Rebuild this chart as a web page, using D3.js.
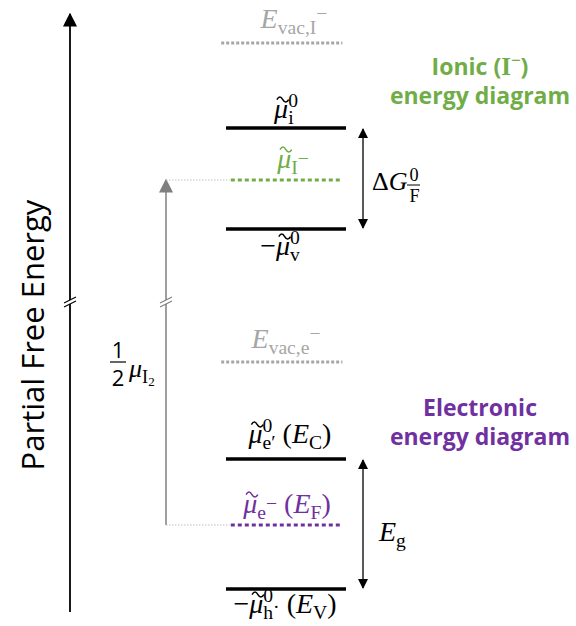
<!DOCTYPE html>
<html>
<head>
<meta charset="utf-8">
<script src="https://cdn.jsdelivr.net/npm/d3@7"></script>
<style>
  body { margin: 0; background: #fff; }
  svg text { font-family: "Liberation Serif", serif; }
</style>
</head>
<body>
<div id="chart"></div>
<script>
// energy levels (arbitrary units, 0 = bottom of the axis)
const levelNames = ['Evac_I', 'mu_i0', 'mu_I', 'mu_v0', 'Evac_e', 'mu_e0', 'mu_e', 'mu_h0'];
const levelValues = [569, 484, 432, 383, 250, 153, 87, 23];
const levelKinds = ['vac', 'solid', 'ion', 'solid', 'vac', 'solid', 'elec', 'solid'];
const axisRange = [0, 598];
const breakValue = 310;
const gapArrows = [['mu_i0', 'mu_v0'], ['mu_e0', 'mu_h0']];

const width = 576, height = 626;
const green = '#70ad47', purple = '#7030a0', grey = '#a6a6a6', darkGrey = '#7f7f7f';

const svg = d3.select('#chart').append('svg')
    .attr('width', width)
    .attr('height', height);

const y = d3.scaleLinear().domain([0, 600]).range([612, 12]);
const x = d3.scaleLinear().domain([0, 100]).range([226, 346]);

const val = name => levelValues[levelNames.indexOf(name)];

const defs = svg.append('defs');
function marker(id, color, w) {
    defs.append('marker')
        .attr('id', id)
        .attr('viewBox', '0 0 10 10')
        .attr('refX', 9).attr('refY', 5)
        .attr('markerWidth', w).attr('markerHeight', w)
        .attr('markerUnits', 'userSpaceOnUse')
        .attr('orient', 'auto-start-reverse')
        .append('path')
        .attr('d', 'M0,0 L10,5 L0,10 Z')
        .attr('fill', color);
}
marker('head', '#000', 14);
marker('headGrey', darkGrey, 14);
marker('small', '#000', 10);

// main axis
svg.append('line')
    .attr('x1', 70).attr('x2', 70)
    .attr('y1', y(axisRange[0])).attr('y2', y(axisRange[1]))
    .attr('stroke', '#000').attr('stroke-width', 1.8)
    .attr('marker-end', 'url(#head)');

// 1/2 mu arrow
svg.append('line')
    .attr('x1', 166).attr('x2', 166)
    .attr('y1', y(val('mu_e'))).attr('y2', y(val('mu_I')))
    .attr('stroke', darkGrey).attr('stroke-width', 1.5)
    .attr('marker-end', 'url(#headGrey)');

// thin dotted connectors
['mu_I', 'mu_e'].forEach(n => {
    svg.append('line')
        .attr('x1', 166).attr('x2', x(3))
        .attr('y1', y(val(n))).attr('y2', y(val(n)))
        .attr('stroke', '#bfbfbf').attr('stroke-width', 1)
        .attr('stroke-dasharray', '1.5,1.5');
});

// axis breaks
function axisBreak(cx, color) {
    const cy = y(breakValue);
    svg.append('rect').attr('x', cx - 3).attr('y', cy - 2).attr('width', 6).attr('height', 4).attr('fill', '#fff');
    [-2, 2].forEach(o => {
        svg.append('line')
            .attr('x1', cx - 6).attr('x2', cx + 6)
            .attr('y1', cy + o + 3).attr('y2', cy + o - 3)
            .attr('stroke', color).attr('stroke-width', 1.2);
    });
}
axisBreak(70, '#000');
axisBreak(166, darkGrey);

// levels
const levelStyle = {
    solid: { color: '#000', w: 3.5, dash: null, x0: 0, x1: 100 },
    vac: { color: grey, w: 3, dash: '3,2', x0: -4, x1: 97 },
    ion: { color: green, w: 3, dash: '4,3', x0: 4, x1: 96 },
    elec: { color: purple, w: 3, dash: '4,3', x0: 4, x1: 96 }
};
svg.selectAll('.level')
    .data(levelNames.map((n, i) => ({ name: n, v: levelValues[i], kind: levelKinds[i] })))
    .enter().append('line')
    .attr('class', 'level')
    .attr('x1', d => x(levelStyle[d.kind].x0))
    .attr('x2', d => x(levelStyle[d.kind].x1))
    .attr('y1', d => y(d.v)).attr('y2', d => y(d.v))
    .attr('stroke', d => levelStyle[d.kind].color)
    .attr('stroke-width', d => levelStyle[d.kind].w)
    .attr('stroke-dasharray', d => levelStyle[d.kind].dash);

// double arrows
gapArrows.forEach(([a, b]) => {
    svg.append('line')
        .attr('x1', 363).attr('x2', 363)
        .attr('y1', y(val(a)) + 1).attr('y2', y(val(b)) - 1)
        .attr('stroke', '#000').attr('stroke-width', 1.3)
        .attr('marker-start', 'url(#small)')
        .attr('marker-end', 'url(#small)');
});

// math labels built from pieces, measured and placed
// piece: {t, i: italic, s: size factor, dy, over: stack on previous, tilde}
function mathLabel(pieces, cx, baseline, color, size, anchor) {
    const g = svg.append('g').attr('fill', color);
    let xx = 0, lastStart = 0, lastW = 0;
    pieces.forEach(p => {
        const start = p.over ? lastStart : xx;
        const fs = size * (p.s || 1);
        const t = g.append('text')
            .attr('x', start + (p.dx || 0))
            .attr('y', (p.dy || 0) * size)
            .attr('font-size', fs)
            .style('font-style', p.i ? 'italic' : 'normal')
            .text(p.t);
        const w = t.node().getComputedTextLength() + (p.dx || 0);
        if (p.tilde) {
            const tw = fs * 0.42, h = fs * 0.09;
            const a = start + w / 2 - tw / 2 + fs * 0.06, b = -fs * 0.66;
            g.append('path')
                .attr('d', `M${a},${b} q${tw / 4},${-h * 2} ${tw / 2},0 t${tw / 2},0`)
                .attr('fill', 'none')
                .attr('stroke', color)
                .attr('stroke-width', fs * 0.055);
        }
        if (p.over) {
            xx = lastStart + Math.max(w, lastW);
        } else {
            lastStart = start; lastW = w; xx = start + w;
        }
    });
    const left = anchor === 'start' ? cx : cx - xx / 2;
    g.attr('transform', `translate(${left},${baseline})`);
    return g;
}

const mu = { t: 'μ', i: true, tilde: true };
const sz = 28;
// dy values are fractions of the font size
const sub = (t, dy) => ({ t, s: 0.7, dy: dy == null ? 0.2 : dy });
const sup0 = { t: '0', s: 0.7, dy: -0.4, over: true };
const paren = { t: '\u00a0(' };

mathLabel([{ t: 'E', i: true }, sub('vac,I'), sub('−', -0.28)], 294, 28, grey, sz);
mathLabel([mu, sub('i'), sup0], 286, 118, '#000', sz);
mathLabel([mu, sub('I'), sub('−', -0.12)], 293, 168, green, sz);
mathLabel([{ t: '−' }, mu, sub('v'), sup0], 280, 255, '#000', sz);

// delta G with stacked F / 0
const dG = mathLabel([{ t: 'Δ' }, { t: 'G', i: true }, { t: '0', s: 0.7, dy: -0.34, dx: 2 }, { t: 'F', s: 0.7, dy: 0.45, dx: 2, over: true }], 372, 190, '#000', 26, 'start');
dG.append('line').attr('x1', 35).attr('x2', 48).attr('y1', -5).attr('y2', -5)
    .attr('stroke', '#000').attr('stroke-width', 1);

mathLabel([{ t: 'E', i: true }, sub('vac,e'), sub('−', -0.28)], 286, 348, grey, sz);
mathLabel([mu, sub('e′'), sup0, paren, { t: 'E', i: true }, sub('C'), { t: ')' }], 290, 443, '#000', sz);
mathLabel([mu, sub('e'), sub('−', -0.12), paren, { t: 'E', i: true }, sub('F'), { t: ')' }], 287, 513, purple, sz);
mathLabel([{ t: '−' }, mu, sub('h'), sup0, sub('·', 0), paren, { t: 'E', i: true }, sub('V'), { t: ')' }], 285, 613, '#000', sz);
mathLabel([{ t: 'E', i: true }, sub('g')], 379, 541, '#000', sz, 'start');

// 1/2 mu_I2
const fracFont = '"Open Sans", sans-serif';
svg.append('text').attr('x', 118).attr('y', 358).attr('text-anchor', 'middle')
    .attr('font-size', 22).style('font-family', fracFont).text('1');
svg.append('line').attr('x1', 110).attr('x2', 126).attr('y1', 362).attr('y2', 362)
    .attr('stroke', '#000').attr('stroke-width', 1.2);
svg.append('text').attr('x', 118).attr('y', 386).attr('text-anchor', 'middle')
    .attr('font-size', 22).style('font-family', fracFont).text('2');
mathLabel([{ t: 'μ', i: true }, sub('I', 0.24), { t: '2', s: 0.5, dy: 0.36 }], 129, 377, '#000', 26, 'start');

// diagram titles
const titleFont = '"Open Sans", "Noto Sans", sans-serif';
function title(lines, color, yTop) {
    lines.forEach((l, i) => {
        const t = svg.append('text')
            .attr('x', 480).attr('y', yTop + i * 29)
            .attr('text-anchor', 'middle')
            .attr('fill', color)
            .attr('font-size', 23)
            .attr('font-weight', 'bold')
            .style('font-family', titleFont);
        l.forEach(p => t.append('tspan')
            .style('font-family', p.serif ? '"Liberation Serif", serif' : titleFont)
            .attr('font-size', p.s || 23)
            .attr('dy', p.dy || 0)
            .text(p.t));
    });
}
title([[{ t: 'Ionic (' }, { t: 'I', serif: true, s: 25 }, { t: '−', serif: true, s: 17, dy: -9 }, { t: ')', dy: 9 }], [{ t: 'energy diagram' }]], green, 75);
title([[{ t: 'Electronic' }], [{ t: 'energy diagram' }]], purple, 416);

// axis title
svg.append('text')
    .attr('transform', `translate(44,335) rotate(-90)`)
    .attr('text-anchor', 'middle')
    .attr('font-size', 31)
    .style('font-family', '"Open Sans", sans-serif')
    .text('Partial Free Energy');
</script>
</body>
</html>
